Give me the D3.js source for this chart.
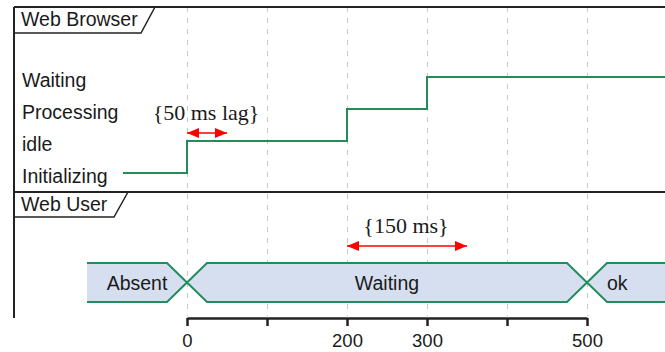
<!DOCTYPE html>
<html>
<head>
<meta charset="utf-8">
<script src="https://cdn.jsdelivr.net/npm/d3@7"></script>
<style>
  body { margin: 0; background: #fff; }
  svg { display: block; font-family: "Liberation Sans", Arial, sans-serif; }
</style>
</head>
<body>
<div id="main"></div>
<script>
// data
const tickTimes = [0, 100, 200, 300, 400, 500, 600];
const tickLabels = [0, 200, 300, 500];

const browserStates = ["Initializing", "idle", "Processing", "Waiting"];
const browserTimes = [-80, 0, 200, 300];
const browserValues = ["Initializing", "idle", "Processing", "Waiting"];

const userTimes = [-125, 0, 500];
const userValues = ["Absent", "Waiting", "ok"];

const lagFrom = [0, 200];
const lagTo = [50, 350];
const lagLabels = ["{50 ms lag}", "{150 ms}"];

const endTime = 610;

const width = 665, height = 352;
const green = "#238c5c";

const svg = d3.select("#main")
  .append("svg")
  .attr("width", width)
  .attr("height", height);

const x = d3.scaleLinear().domain([0, 500]).range([187, 587]);

const frameTop = 7, frameLeft = 14, sepY = 192, axisY = 318;

// grid
svg.append("g")
  .selectAll("line")
  .data(tickTimes)
  .enter().append("line")
  .attr("x1", d => x(d) + 0.5)
  .attr("x2", d => x(d) + 0.5)
  .attr("y1", frameTop)
  .attr("y2", axisY - 2)
  .attr("stroke", "#c8c8c8")
  .attr("stroke-dasharray", "5,6");

// frame lines
svg.append("line")
  .attr("x1", frameLeft).attr("x2", width)
  .attr("y1", frameTop).attr("y2", frameTop)
  .attr("stroke", "#222").attr("stroke-width", 2);
svg.append("line")
  .attr("x1", frameLeft).attr("x2", width)
  .attr("y1", sepY).attr("y2", sepY)
  .attr("stroke", "#222").attr("stroke-width", 2);
svg.append("line")
  .attr("x1", frameLeft).attr("x2", frameLeft)
  .attr("y1", frameTop).attr("y2", axisY)
  .attr("stroke", "#222").attr("stroke-width", 2);

// tabs
const tabs = [
  { name: "Web Browser", y: frameTop, w: 155, h: 26 },
  { name: "Web User", y: sepY, w: 128, h: 25 }
];
tabs.forEach(t => {
  svg.append("path")
    .attr("d", `M${frameLeft},${t.y + t.h} L${t.w - 14},${t.y + t.h} L${t.w},${t.y}`)
    .attr("fill", "none")
    .attr("stroke", "#222")
    .attr("stroke-width", 1.5);
  svg.append("text")
    .attr("x", 21)
    .attr("y", t.y + 19)
    .attr("font-size", "19.5px")
    .attr("fill", "#1a1a1a")
    .text(t.name);
});

// browser robust states
const y = d3.scalePoint().domain(browserStates).range([173, 77]);

svg.append("g")
  .selectAll("text")
  .data(browserStates)
  .enter().append("text")
  .attr("x", 22)
  .attr("y", d => y(d) + 10)
  .attr("font-size", "19.5px")
  .attr("fill", "#1a1a1a")
  .text(d => d);

const stepPts = browserTimes.map((t, i) => [x(t), y(browserValues[i])]);
stepPts.push([x(endTime), y(browserValues[browserValues.length - 1])]);

svg.append("path")
  .attr("d", d3.line().curve(d3.curveStepAfter)(stepPts))
  .attr("fill", "none")
  .attr("stroke", green)
  .attr("stroke-width", 2);

// user concise states
const bandTop = 263, bandBot = 302, mid = (bandTop + bandBot) / 2, slant = 20;
const segs = userTimes.map((t, i) => ({
  x0: x(t),
  x1: i < userTimes.length - 1 ? x(userTimes[i + 1]) : x(endTime),
  first: i === 0,
  last: i === userTimes.length - 1,
  label: userValues[i]
}));

const userG = svg.append("g");
segs.forEach(s => {
  const l0 = s.first ? s.x0 : s.x0 + slant;
  const r0 = s.last ? s.x1 : s.x1 - slant;
  const pts = [];
  if (s.first) { pts.push([s.x0, bandTop]); } else { pts.push([s.x0, mid], [l0, bandTop]); }
  if (s.last) { pts.push([s.x1, bandTop], [s.x1, bandBot]); } else { pts.push([r0, bandTop], [s.x1, mid], [r0, bandBot]); }
  if (s.first) { pts.push([s.x0, bandBot]); } else { pts.push([l0, bandBot]); }

  userG.append("polygon")
    .attr("points", pts.map(p => p.join(",")).join(" "))
    .attr("fill", "#d6dff0");

  let d = `M${s.x0} ${s.first ? bandTop : mid} L${l0} ${bandTop} L${r0} ${bandTop}`;
  if (!s.last) d += ` L${s.x1} ${mid}`;
  d += ` M${s.x0} ${s.first ? bandBot : mid} L${l0} ${bandBot} L${r0} ${bandBot}`;
  if (!s.last) d += ` L${s.x1} ${mid}`;
  userG.append("path")
    .attr("d", d)
    .attr("fill", "none")
    .attr("stroke", green)
    .attr("stroke-width", 2);

  userG.append("text")
    .attr("x", s.last ? s.x0 + 20 : (s.x0 + s.x1) / 2)
    .attr("y", mid + 7)
    .attr("text-anchor", s.last ? "start" : "middle")
    .attr("font-size", "19.5px")
    .attr("fill", "#1a1a1a")
    .text(s.label);
});

// constraints
const defs = svg.append("defs");
["start", "end"].forEach(k => {
  defs.append("marker")
    .attr("id", "arr-" + k)
    .attr("viewBox", "0 0 12 10")
    .attr("refX", k === "end" ? 12 : 0)
    .attr("refY", 5)
    .attr("markerWidth", 12)
    .attr("markerHeight", 10)
    .attr("markerUnits", "userSpaceOnUse")
    .attr("orient", "auto")
    .append("path")
    .attr("d", k === "end" ? "M0,0 L12,5 L0,10 Z" : "M12,0 L0,5 L12,10 Z")
    .attr("fill", "#f00");
});

const lagY = [133, 246];
lagFrom.forEach((f, i) => {
  svg.append("line")
    .attr("x1", x(f)).attr("x2", x(lagTo[i]))
    .attr("y1", lagY[i]).attr("y2", lagY[i])
    .attr("stroke", "#f00")
    .attr("stroke-width", 1.5)
    .attr("marker-start", "url(#arr-start)")
    .attr("marker-end", "url(#arr-end)");
  svg.append("text")
    .attr("x", (x(f) + x(lagTo[i])) / 2 - 1)
    .attr("y", lagY[i] - 13)
    .attr("text-anchor", "middle")
    .attr("font-family", "'Liberation Serif', 'Times New Roman', serif")
    .attr("font-size", "22px")
    .attr("fill", "#1a1a1a")
    .text(lagLabels[i]);
});

// time axis
const axis = d3.axisBottom(x)
  .tickValues(tickTimes)
  .tickSizeInner(8)
  .tickSizeOuter(0)
  .tickFormat(d => tickLabels.includes(d) ? d : "");

const ax = svg.append("g")
  .attr("transform", `translate(0,${axisY})`)
  .call(axis);
ax.select(".domain").attr("stroke", "#222").attr("stroke-width", 2.5);
ax.selectAll(".tick line").attr("stroke", "#222").attr("stroke-width", 2.5);
ax.selectAll(".tick text")
  .attr("font-size", "18.5px")
  .attr("font-family", "'Liberation Sans', Arial, sans-serif")
  .attr("fill", "#1a1a1a")
  .attr("dy", "0.95em");
</script>
</body>
</html>
